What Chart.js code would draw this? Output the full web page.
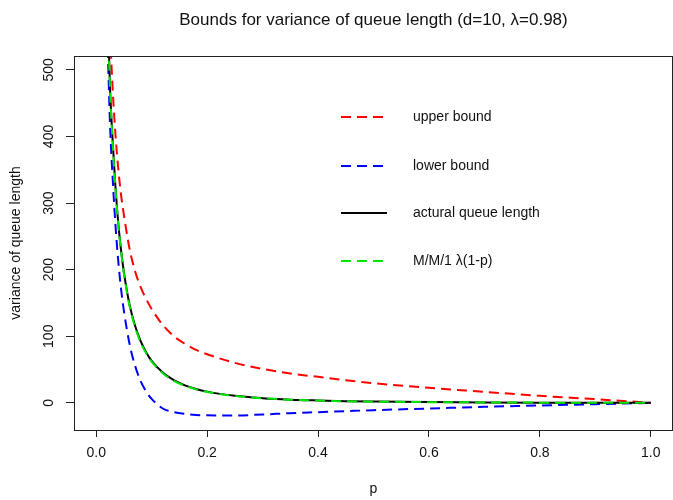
<!DOCTYPE html>
<html>
<head>
<meta charset="utf-8">
<script src="https://cdn.jsdelivr.net/npm/chart.js"></script>
<style>
  body { margin: 0; background: #fff; }
</style>
</head>
<body>
<canvas id="myChart" width="673" height="500"></canvas>
<script>
// values
let pValues = [0.02, 0.025, 0.03, 0.035, 0.04, 0.045, 0.05, 0.06, 0.07, 0.08, 0.09, 0.1,
  0.12, 0.14, 0.16, 0.18, 0.2, 0.25, 0.3, 0.35, 0.4, 0.45, 0.5, 0.6, 0.7, 0.8, 0.9, 1.0];
let upperBound = [700, 560, 467, 400, 350, 311, 282, 232, 198, 174, 156, 141,
  117, 100, 88.5, 79.5, 73, 60, 51, 44, 39, 34, 29.5, 22.5, 16.5, 10.5, 5.5, 0];
let lowerBound = [557, 417, 333, 264, 211, 170, 138, 89, 56, 33, 17, 6,
  -8.5, -14, -16.7, -18.2, -18.7, -19, -17.5, -15.5, -14, -12.5, -11, -8.5, -6, -4, -2, 0];
let actualLength = [612, 472, 389, 321, 268, 228, 196, 148, 116, 93, 76, 63,
  45.5, 34, 26.3, 20.8, 16.8, 10.5, 7, 4.8, 3.5, 2.5, 1.9, 1.1, 0.6, 0.3, 0.1, 0];
let mm1Length = [610, 470, 387, 319, 266, 226, 194, 146, 114, 91, 74.5, 62,
  44.5, 33, 25.5, 20.2, 16.3, 10.2, 6.8, 4.7, 3.4, 2.4, 1.8, 1.0, 0.6, 0.3, 0.1, 0];

let xTicks = [0, 0.2, 0.4, 0.6, 0.8, 1.0];
let yTicks = [0, 100, 200, 300, 400, 500];

let seriesNames = ["upper bound", "lower bound", "actural queue length", "M/M/1 \u03bb(1-p)"];
let seriesColors = ["#ff0000", "#0000ff", "#000000", "#00e600"];
let seriesDashed = [true, true, false, true];

const FONT = "'Liberation Sans', Arial, sans-serif";

function points(vals) {
  return pValues.map((p, i) => ({x: p, y: vals[i]}));
}

const allSeries = [upperBound, lowerBound, actualLength, mm1Length];
const drawOrder = [3, 2, 1, 0];

const datasets = allSeries.map((vals, i) => ({
  label: seriesNames[i],
  data: points(vals),
  borderColor: seriesColors[i],
  borderWidth: 2,
  borderDash: seriesDashed[i] ? [10, 6] : [],
  pointRadius: 0,
  cubicInterpolationMode: "monotone",
  fill: false,
  order: drawOrder[i]
}));

// R style frame, titles, rotated y labels and legend
const framePlugin = {
  id: "frame",
  afterDraw(chart) {
    const ctx = chart.ctx;
    const a = chart.chartArea;
    const yScale = chart.scales.y;
    ctx.save();
    ctx.strokeStyle = "#222";
    ctx.lineWidth = 1;
    ctx.setLineDash([]);
    ctx.strokeRect(a.left + 0.5, a.top + 0.5, a.right - a.left - 1, a.bottom - a.top);

    ctx.fillStyle = "#111";
    ctx.textAlign = "center";
    ctx.textBaseline = "middle";
    ctx.font = "17px " + FONT;
    ctx.fillText("Bounds for variance of queue length (d=10, \u03bb=0.98)", (a.left + a.right) / 2, 20);

    ctx.font = "14px " + FONT;
    ctx.fillText("p", (a.left + a.right) / 2, 489);

    for (const v of yTicks) {
      ctx.save();
      ctx.translate(49, yScale.getPixelForValue(v));
      ctx.rotate(-Math.PI / 2);
      ctx.fillText(String(v), 0, 0);
      ctx.restore();
    }

    ctx.save();
    ctx.translate(16, (a.top + a.bottom) / 2);
    ctx.rotate(-Math.PI / 2);
    ctx.fillText("variance of queue length", 0, 0);
    ctx.restore();

    // legend
    const legendY = [117, 166, 213, 261];
    ctx.textAlign = "left";
    seriesNames.forEach((name, i) => {
      ctx.strokeStyle = seriesColors[i];
      ctx.lineWidth = 2;
      ctx.setLineDash(seriesDashed[i] ? [10, 6] : []);
      ctx.beginPath();
      ctx.moveTo(341, legendY[i]);
      ctx.lineTo(387, legendY[i]);
      ctx.stroke();
      ctx.setLineDash([]);
      ctx.fillStyle = "#111";
      ctx.fillText(name, 413, legendY[i]);
    });
    ctx.restore();
  }
};

new Chart("myChart", {
  type: "line",
  data: {datasets: datasets},
  options: {
    responsive: false,
    animation: false,
    layout: {padding: {top: 56, right: 0, left: 0, bottom: 0}},
    plugins: {legend: {display: false}, tooltip: {enabled: false}},
    scales: {
      x: {
        type: "linear",
        min: -0.04,
        max: 1.04,
        afterBuildTicks: s => { s.ticks = xTicks.map(v => ({value: v})); },
        afterFit: s => { s.height = 70; },
        grid: {drawOnChartArea: false, tickLength: 7, color: "#222", tickColor: "#222"},
        border: {display: false},
        ticks: {
          color: "#111",
          font: {family: FONT, size: 14},
          padding: 8,
          maxRotation: 0,
          callback: v => Number(v).toFixed(1)
        }
      },
      y: {
        type: "linear",
        min: -40.8,
        max: 520.8,
        afterBuildTicks: s => { s.ticks = yTicks.map(v => ({value: v})); },
        afterFit: s => { s.width = 74; },
        grid: {drawOnChartArea: false, tickLength: 8, color: "#222", tickColor: "#222"},
        border: {display: false},
        ticks: {display: false}
      }
    }
  },
  plugins: [framePlugin]
});
</script>
</body>
</html>
